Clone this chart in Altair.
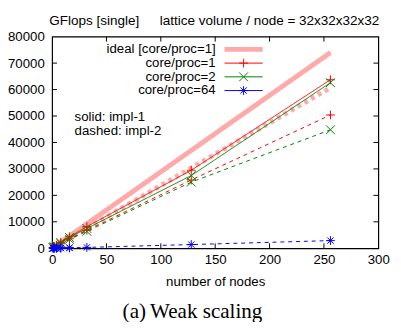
import altair as alt
import pandas as pd

# ---- data ----
nodes = [1, 2, 4, 8, 16, 32, 128, 256]
c1_impl1 = [290, 570, 1130, 2250, 4300, 8200, 29500, 63700]
c2_impl1 = [280, 550, 1100, 2150, 4100, 7500, 27500, 62600]
c1_impl2 = [250, 490, 970, 1900, 3600, 6800, 25800, 50400]
c2_impl2 = [240, 470, 930, 1800, 3400, 6400, 25000, 44800]
c64_impl1_nodes = [1, 2, 4, 8, 16]
c64_impl1 = [12, 24, 48, 95, 190]
c64_impl2 = [10, 20, 40, 80, 160, 330, 1400, 2900]
ideal_nodes = [1, 256]
ideal_impl1 = [290, 74000]
ideal_impl2 = [240, 60700]

x_ticks = [0, 50, 100, 150, 200, 250, 300]
y_ticks = [0, 10000, 20000, 30000, 40000, 50000, 60000, 70000, 80000]

legend_labels = ["ideal [core/proc=1]", "core/proc=1", "core/proc=2", "core/proc=64"]
cores_domain = ["1", "2", "64"]
cores_colors = ["#ff0000", "#008000", "#0000ff"]
PLUS = "M-1,0L1,0M0,-1L0,1"
XMARK = "M-1,-1L1,1M-1,1L1,-1"
STAR = "M-1,0L1,0M0,-1L0,1M-0.72,-0.72L0.72,0.72M-0.72,0.72L0.72,-0.72"
shapes = [PLUS, XMARK, STAR]

rows = []
for cores, impl, xs_, ys_ in [
    ("1", "impl-1", nodes, c1_impl1),
    ("2", "impl-1", nodes, c2_impl1),
    ("1", "impl-2", nodes, c1_impl2),
    ("2", "impl-2", nodes, c2_impl2),
    ("64", "impl-1", c64_impl1_nodes, c64_impl1),
    ("64", "impl-2", nodes, c64_impl2),
]:
    for n, g in zip(xs_, ys_):
        rows.append({"nodes": n, "gflops": g, "cores": cores, "impl": impl, "key": cores + impl})
df = pd.DataFrame(rows)

ideal_rows = []
for impl, vals in [("impl-1", ideal_impl1), ("impl-2", ideal_impl2)]:
    for n, g in zip(ideal_nodes, vals):
        ideal_rows.append({"nodes": n, "gflops": g, "impl": impl})
ideal_df = pd.DataFrame(ideal_rows)

W, H = 333, 216
FONT = "Liberation Sans"
FS = 13.5
PINK = "#ffaaaa"

xs = alt.Scale(domain=[0, 300], nice=False, zero=False)
ys = alt.Scale(domain=[0, 80000], nice=False)

X_AXIS = alt.Axis(values=x_ticks, title="number of nodes", ticks=False, domain=False, grid=False,
                  labelPadding=5, titlePadding=9, labelFlush=False, labelOverlap=False)
Y_AXIS = alt.Axis(values=y_ticks, title=None, ticks=False, domain=False, grid=False, format="d",
                  labelPadding=8, labelOverlap=False)
X = alt.X("nodes:Q", scale=xs, axis=X_AXIS)
Y = alt.Y("gflops:Q", scale=ys, axis=Y_AXIS)

ideal = alt.Chart(ideal_df).mark_line(color=PINK, strokeWidth=5).encode(
    x=X, y=Y,
    strokeDash=alt.StrokeDash("impl:N", scale=alt.Scale(domain=["impl-1", "impl-2"], range=[[1, 0], [4, 4]]),
                              legend=None),
    detail="impl:N",
)

lines = alt.Chart(df).mark_line(strokeWidth=1).encode(
    x=X, y=Y,
    color=alt.Color("cores:N", scale=alt.Scale(domain=cores_domain, range=cores_colors), legend=None),
    strokeDash=alt.StrokeDash("impl:N", scale=alt.Scale(domain=["impl-1", "impl-2"], range=[[1, 0], [3, 2]]),
                              legend=None),
    detail="key:N",
)

points = alt.Chart(df).mark_point(filled=False, strokeWidth=1, size=80, opacity=1).encode(
    x=X, y=Y,
    color=alt.Color("cores:N", scale=alt.Scale(domain=cores_domain, range=cores_colors), legend=None),
    shape=alt.Shape("cores:N", scale=alt.Scale(domain=cores_domain, range=shapes), legend=None),
)

# inward ticks (gnuplot style, mirrored)
xt = pd.DataFrame({"nodes": x_ticks[1:-1]})
yt = pd.DataFrame({"gflops": y_ticks[1:-1]})
tick_layers = [
    alt.Chart(xt).mark_rule(color="black").encode(x=X, y=alt.value(H), y2=alt.value(H - 5)),
    alt.Chart(xt).mark_rule(color="black").encode(x=X, y=alt.value(0), y2=alt.value(5)),
    alt.Chart(yt).mark_rule(color="black").encode(y=Y, x=alt.value(0), x2=alt.value(5)),
    alt.Chart(yt).mark_rule(color="black").encode(y=Y, x=alt.value(W), x2=alt.value(W - 5)),
]

one = pd.DataFrame({"a": [0]})

def txt(s, x, y, align="left", size=FS, font=FONT):
    return alt.Chart(one).mark_text(text=s, align=align, baseline="middle", fontSize=size, font=font,
                                    color="black").encode(x=alt.value(x), y=alt.value(y))

legend_layers = []
ly = [13, 27, 41, 55]
for i, lab in enumerate(legend_labels):
    legend_layers.append(txt(lab, 167, ly[i], align="right"))
legend_layers.append(alt.Chart(one).mark_rule(color=PINK, strokeWidth=5).encode(
    x=alt.value(176), x2=alt.value(215), y=alt.value(ly[0])))
for i, (c, shp) in enumerate(zip(cores_colors, shapes)):
    legend_layers.append(alt.Chart(one).mark_rule(color=c, strokeWidth=1).encode(
        x=alt.value(176), x2=alt.value(215), y=alt.value(ly[i + 1])))
    legend_layers.append(alt.Chart(one).mark_point(filled=False, strokeWidth=1, size=80, opacity=1,
                                                   color=c, shape=shp).encode(
        x=alt.value(195.5), y=alt.value(ly[i + 1])))

notes = [txt("solid: impl-1", 23, 82), txt("dashed: impl-2", 23, 96)]
titles = [
    txt("GFlops [single]", -3, -16, size=13.8),
    txt("lattice volume / node = 32x32x32x32", 110, -16, size=13.8),
    txt("(a)", 72, 281, size=21.5, font="Liberation Serif"),
    txt("Weak scaling", 100, 281, size=21.5, font="Liberation Serif"),
]

chart = alt.layer(ideal, lines, points, *tick_layers, *legend_layers, *notes, *titles).properties(
    width=W, height=H,
    autosize=alt.AutoSizeParams(type="none"),
    padding={"left": 45, "top": 26, "right": 15, "bottom": 72},
).configure_view(stroke="black", strokeWidth=1.2).configure_axis(
    labelFont=FONT, labelFontSize=FS, labelColor="black", titleFont=FONT, titleFontSize=FS,
    titleColor="black", titleFontWeight="normal"
)

chart.save("out.html", embed_options={"renderer": "svg", "actions": False})
